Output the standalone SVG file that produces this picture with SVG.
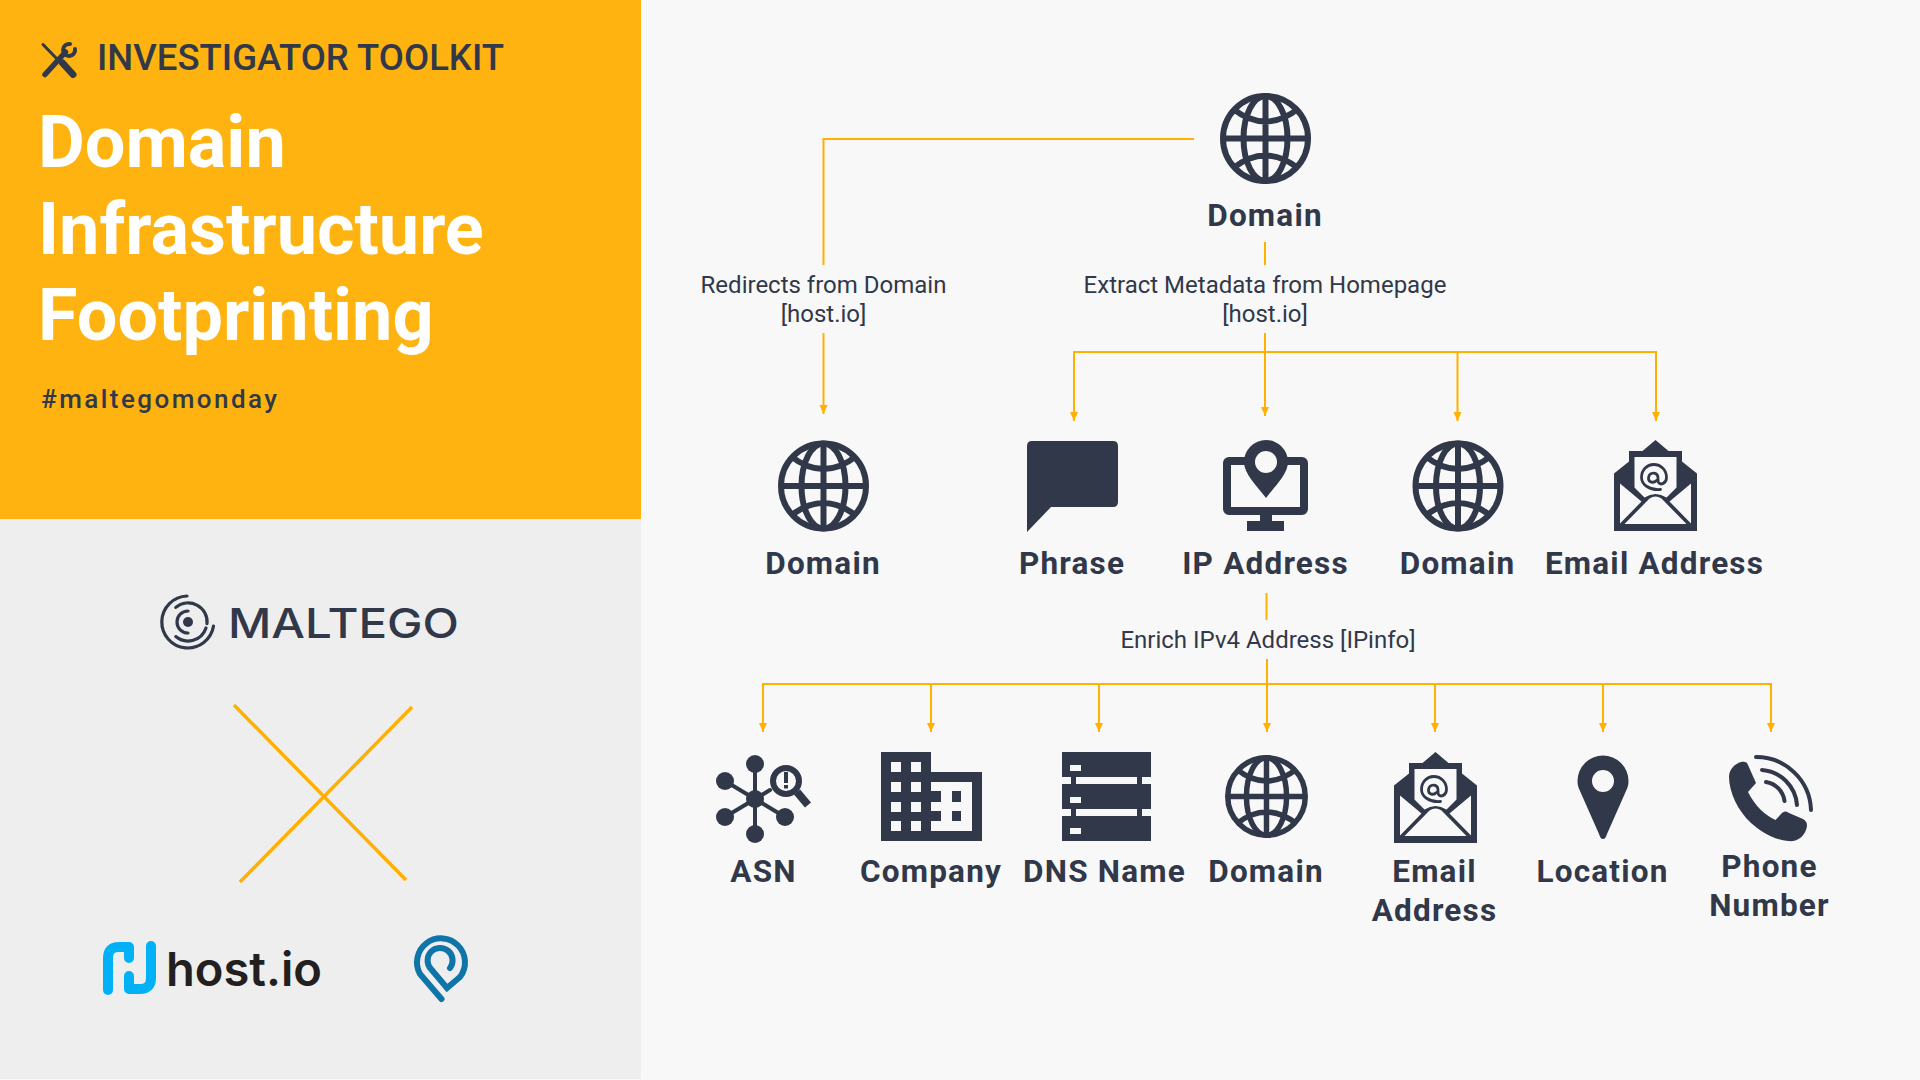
<svg xmlns="http://www.w3.org/2000/svg" width="1920" height="1080" viewBox="0 0 1920 1080">
<style>
text{font-family:Roboto,"Liberation Sans",sans-serif;fill:#313849}
.lab{font-size:31.500px;font-weight:700;letter-spacing:1.2px;text-anchor:middle}
.edge{font-size:24px;font-weight:400;text-anchor:middle}
.title{font-size:72px;font-weight:700;fill:#fff}
.conn{fill:none;stroke:#ffb000;stroke-width:2}
.dark{fill:#313849}
.bgf{fill:#f8f8f8}
.ln{fill:none;stroke:#313849;stroke-linecap:round}
</style>
<defs>
<marker id="ah" markerUnits="userSpaceOnUse" markerWidth="10" markerHeight="9" refX="9" refY="4.5" orient="auto"><path d="M0 0.5L9 4.5L0 8.5Z" fill="#ffb000"/></marker>
<g id="globe" fill="none" stroke="#313849" stroke-width="6">
<circle r="42.5"/><ellipse rx="22" ry="42.5"/><path d="M0-42V42M-42 0H42M-33-30Q0-4 33-30M-33 30Q0 4 33 30"/>
</g>
<g id="mail">
<path class="dark" d="M0-45.5L13-34.5H26.5V-24L41.5-12V45.5H-41.5V-12L-26.5-24V-34.5H-13Z"/>
<path class="bgf" d="M-21-28.5H21V2L11 12Q0 5-11 12L-21 2ZM-35.5-2L-14 16-35.5 38ZM35.5-2L14 16 35.5 38ZM-31 38.5L-6 13Q0 9 6 13L31 38.5Z"/>
<path class="ln" stroke-width="2.800" d="M5 4C-6 5-14-1-14-8C-14-16-8-21-2-21C6-21 11-15 11-8C11-2 5 0 3-3C2-5 3-8 2-10C0-14-7-13-7-7C-7-3-2-2 1-5"/>
</g>
</defs>
<rect width="1920" height="1080" class="bgf"/>
<rect width="641" height="519" fill="#ffb310"/>
<rect y="519" width="641" height="560" fill="#eeeeee"/>
<g id="header">
<g class="ln"><path stroke-width="3" d="M43 44.500L57 59"/><path stroke-width="7" stroke-linecap="round" d="M62.500 63L73 74.500"/><path stroke-width="5.500" d="M45 74.500L65.500 52"/><path stroke-width="4" d="M75 49A6 6 0 1 1 70 44"/></g>
<text x="97" y="70" font-size="36.500" font-weight="500" textLength="407">INVESTIGATOR TOOLKIT</text>
<text class="title" x="38" y="166.700">Domain</text>
<text class="title" x="38" y="253.700">Infrastructure</text>
<text class="title" x="38" y="339.700">Footprinting</text>
<text x="41" y="408" font-size="26" font-weight="500" textLength="236">#maltegomonday</text>
</g>
<g id="logo-maltego">
<circle cx="188" cy="622" r="5" class="dark"/>
<g class="ln" stroke-width="3.200">
<path d="M187 596A26 26 0 1 0 213.500 626"/>
<path d="M175.800 607.400A19 19 0 0 1 207 623.700"/>
<path d="M175.800 636.600A19 19 0 0 0 206 628"/>
<path d="M188 611A11 11 0 0 0 188 633"/>
</g>
<text x="228" y="638" font-size="41" textLength="231" lengthAdjust="spacingAndGlyphs" style="font-family:Inter,sans-serif;font-weight:500">MALTEGO</text>
</g>
<g id="cross" fill="none" stroke="#ffb000" stroke-width="3.500"><path d="M234 705L406 880M412 707L240 882"/></g>
<g id="logo-hostio">
<path d="M108 990V958Q108 947 119 947H129V958M151 946V978Q151 989 140 989H129V976" fill="none" stroke="#00b2f5" stroke-width="10" stroke-linecap="round" stroke-linejoin="round"/>
<text x="166" y="986" font-size="47" textLength="156" lengthAdjust="spacingAndGlyphs" style="font-family:Inter,sans-serif;fill:#231f20;font-weight:600">host.io</text>
</g>
<g id="logo-ipinfo"><path d="M441.500 999L420 974A24 24 0 1 1 460 977L447 988L431 969A12.500 12.500 0 1 1 450 968" fill="none" stroke="#0f75a8" stroke-width="6" stroke-linecap="round"/></g>

<g id="connectors" class="conn">
<path d="M1194 139H823.500V265"/>
<path d="M823.500 333V414" marker-end="url(#ah)"/>
<path d="M1265 242V265"/>
<path d="M1265 333V416" marker-end="url(#ah)"/>
<path d="M1074 352H1656V421" marker-end="url(#ah)"/>
<path d="M1457.500 352V421" marker-end="url(#ah)"/>
<path d="M1074 351V421" marker-end="url(#ah)"/>
<path d="M1266.500 593V620"/>
<path d="M1267 659V732" marker-end="url(#ah)"/>
<path d="M763 684H1771V732" marker-end="url(#ah)"/>
<path d="M763 683V732" marker-end="url(#ah)"/>
<path d="M931 684V732" marker-end="url(#ah)"/>
<path d="M1099 684V732" marker-end="url(#ah)"/>
<path d="M1435 684V732" marker-end="url(#ah)"/>
<path d="M1603 684V732" marker-end="url(#ah)"/>
</g>
<g id="edge-labels">
<text class="edge" x="823.500" y="293">Redirects from Domain</text>
<text class="edge" x="823.500" y="322">[host.io]</text>
<text class="edge" x="1265" y="293">Extract Metadata from Homepage</text>
<text class="edge" x="1265" y="322">[host.io]</text>
<text class="edge" x="1268" y="648">Enrich IPv4 Address [IPinfo]</text>
</g>

<g id="node-domain-root"><use href="#globe" transform="translate(1265.500 138.500)"/><text class="lab" x="1265" y="226">Domain</text></g>
<g id="node-domain-redirect"><use href="#globe" transform="translate(823.500 486)"/><text class="lab" x="823" y="573.500">Domain</text></g>
<g id="node-phrase"><path class="dark" d="M1032 441H1113Q1118 441 1118 446V502Q1118 507 1113 507H1051L1027 532V446Q1027 441 1032 441Z"/><text class="lab" x="1072" y="573.500">Phrase</text></g>
<g id="node-ip">
<rect x="1227" y="461" width="77" height="50" rx="2" fill="none" stroke="#313849" stroke-width="8"/>
<rect x="1260" y="515" width="12" height="7" class="dark"/><rect x="1247" y="521" width="37" height="10" class="dark"/>
<path class="dark" d="M1266 498C1257 486 1244 474 1244 462A22 22 0 0 1 1288 462C1288 474 1275 486 1266 498Z"/>
<circle cx="1266" cy="462" r="11" class="bgf"/>
<text class="lab" x="1265.500" y="573.500">IP Address</text>
</g>
<g id="node-domain-meta"><use href="#globe" transform="translate(1458 486)"/><text class="lab" x="1457.500" y="573.500">Domain</text></g>
<g id="node-email-meta"><use href="#mail" transform="translate(1655.500 485.500)"/><text class="lab" x="1654.500" y="573.500">Email Address</text></g>

<g id="node-asn">
<g class="ln" stroke-width="4"><path d="M755 764V834M725 781L785 817M725 817L770 790"/></g>
<circle cx="755" cy="799" r="9" class="dark"/>
<circle cx="755" cy="764" r="9" class="dark"/><circle cx="755" cy="834" r="9" class="dark"/><circle cx="725" cy="781" r="9" class="dark"/><circle cx="725" cy="817" r="9" class="dark"/><circle cx="785" cy="817" r="9" class="dark"/>
<circle cx="786" cy="781" r="13" class="bgf" stroke="#313849" stroke-width="6"/>
<path d="M797 792L808 805" fill="none" stroke="#313849" stroke-width="8"/>
<rect x="784" y="772" width="4" height="11" class="dark"/><rect x="784" y="785" width="4" height="3.500" class="dark"/>
<text class="lab" x="763.500" y="882">ASN</text>
</g>
<g id="node-company">
<path class="dark" d="M881 752H931V772H982V841H881Z"/>
<path class="bgf" d="M891 762h10v10h-10zM911 762h10v10h-10zM891 782h10v10h-10zM911 782h10v10h-10zM891 802h10v10h-10zM911 802h10v10h-10zM891 821h10v10h-10zM911 821h10v10h-10zM931 782H972V831H931V821H941V811H931V802H941V791H931Z"/>
<path class="dark" d="M952 791h9v11h-9zM952 811h9v10h-9z"/>
<text class="lab" x="931" y="882">Company</text>
</g>
<g id="node-dns">
<path class="dark" d="M1062 752h89v25h-89zM1062 784h89v25h-89zM1062 816h89v25h-89zM1071 777h5v39h-5zM1137 777h5v39h-5z"/>
<path class="bgf" d="M1070 765h11v6h-11zM1070 797h11v6h-11zM1070 828h11v6h-11z"/>
<text class="lab" x="1104.500" y="882">DNS Name</text>
</g>
<g id="node-domain-enrich"><use href="#globe" transform="translate(1266.500 796.500) scale(.912)"/><text class="lab" x="1266" y="882">Domain</text></g>
<g id="node-email-enrich"><use href="#mail" transform="translate(1435.500 797.500)"/><text class="lab" x="1434.500" y="882">Email</text><text class="lab" x="1434.500" y="921">Address</text></g>
<g id="node-location">
<path class="dark" fill-rule="evenodd" d="M1603 839C1601 839 1600 837 1599 834L1580 791C1578 787 1577.500 784 1577.500 781A25.500 25.500 0 0 1 1628.500 781C1628.500 784 1628 787 1626 791L1607 834C1606 837 1605 839 1603 839ZM1603 770A11 11 0 1 0 1603 792A11 11 0 1 0 1603 770Z"/>
<text class="lab" x="1602.500" y="882">Location</text>
</g>
<g id="node-phone">
<path class="dark" d="M1741 762C1745 761 1747 762 1748 765L1756 783L1748 792C1755 806 1765 815 1775.500 820L1782 813C1784 811 1786 811 1789 813L1803 819C1807 821 1808 825 1806 830C1803 838 1796 842 1788 841C1776 840 1762 833 1751 823C1738 811 1729 792 1729 777C1729 770 1734 764 1741 762Z"/>
<g class="ln" stroke-width="4"><path d="M1756 757A55 55 0 0 1 1811 810"/><path d="M1762 770A38 38 0 0 1 1797 805"/><path d="M1766 782A22 22 0 0 1 1784.500 801"/></g>
<text class="lab" x="1769.500" y="877">Phone</text><text class="lab" x="1769.500" y="916">Number</text>
</g>
</svg>
